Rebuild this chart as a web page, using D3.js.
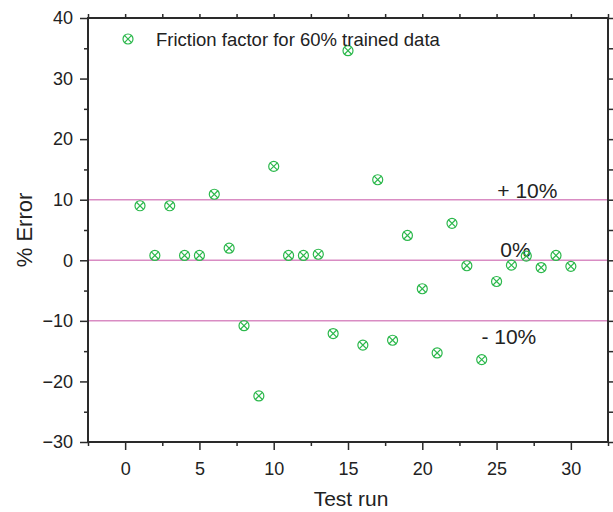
<!DOCTYPE html>
<html>
<head>
<meta charset="utf-8">
<script src="https://cdn.jsdelivr.net/npm/d3@7"></script>
<style>
  html, body { margin: 0; padding: 0; background: #fff; }
  svg { display: block; font-family: "Liberation Sans", Arial, sans-serif; }
</style>
</head>
<body>
<svg id="chart" width="613" height="512"></svg>
<script>
// Test run numbers and their percentage error
const runs = [1, 2, 3, 4, 5, 6, 7, 8, 9, 10, 11, 12, 13, 14, 15,
              16, 17, 18, 19, 20, 21, 22, 23, 24, 25, 26, 27, 28, 29, 30];
const errors = [9.0, 0.8, 9.0, 0.8, 0.8, 10.9, 2.0, -10.8, -22.4, 15.5,
                0.8, 0.8, 1.0, -12.1, 34.6, -14.0, 13.3, -13.2, 4.1, -4.7,
                -15.3, 6.1, -0.9, -16.4, -3.5, -0.8, 0.7, -1.2, 0.8, -1.0];

// Reference bands and their labels
const refValues = [10, 0, -10];
const refLabels = ["+ 10%", "0%", "- 10%"];

const xTicks = [0, 5, 10, 15, 20, 25, 30];
const yTicks = [-30, -20, -10, 0, 10, 20, 30, 40];
const legendLabel = "Friction factor for 60% trained data";

const margin = { left: 88, right: 5, top: 18, bottom: 70 };
const W = 613, H = 512;
const svg = d3.select("#chart");

const x = d3.scaleLinear().domain([-2.5, 32.5]).range([margin.left, W - margin.right]);
const y = d3.scaleLinear().domain([-30, 40]).range([H - margin.bottom, margin.top]);

const axisColor = "#2a2a2a";
const green = "#2cb84c";
const pink = "#d98cc3";

// Reference lines
svg.append("g").selectAll("line").data(refValues).join("line")
  .attr("x1", x(-2.5)).attr("x2", x(32.5))
  .attr("y1", d => y(d)).attr("y2", d => y(d))
  .attr("stroke", pink).attr("stroke-width", 1.5);

// Reference line labels
const refPos = [[25.05, 198], [25.25, 257], [23.98, 344]];
svg.append("g").selectAll("text").data(refLabels).join("text")
  .attr("x", (d, i) => x(refPos[i][0]))
  .attr("y", (d, i) => refPos[i][1])
  .attr("font-size", 21).attr("fill", "#222")
  .text(d => d);

// Axes: major ticks with labels, minor ticks in between
function styleAxis(g) {
  g.selectAll(".domain").remove();
  g.selectAll("line").attr("stroke", axisColor).attr("stroke-width", 1.5);
  g.selectAll("text").attr("fill", "#222").attr("font-size", 18);
}
const xMinor = d3.range(-2.5, 33, 2.5).filter(v => !xTicks.includes(v));
const yMinor = d3.range(-25, 40, 10);

svg.append("g").attr("transform", `translate(0,${y(-30)})`)
  .call(d3.axisBottom(x).tickValues(xTicks).tickSize(8).tickPadding(12).tickFormat(d3.format("d")))
  .call(styleAxis);
svg.append("g").attr("transform", `translate(0,${y(-30)})`)
  .call(d3.axisBottom(x).tickValues(xMinor).tickSize(4).tickFormat(""))
  .call(styleAxis);
svg.append("g").attr("transform", `translate(${x(-2.5)},0)`)
  .call(d3.axisLeft(y).tickValues(yTicks).tickSize(8).tickPadding(7).tickFormat(d3.format("d")))
  .call(styleAxis);
svg.append("g").attr("transform", `translate(${x(-2.5)},0)`)
  .call(d3.axisLeft(y).tickValues(yMinor).tickSize(4).tickFormat(""))
  .call(styleAxis);
// Mirrored ticks on top and right
svg.append("g").attr("transform", `translate(0,${y(40)})`)
  .call(d3.axisTop(x).tickValues(xTicks.concat(xMinor)).tickSize(4).tickFormat(""))
  .call(styleAxis);
svg.append("g").attr("transform", `translate(${x(32.5)},0)`)
  .call(d3.axisRight(y).tickValues(yTicks.concat(yMinor)).tickSize(5).tickFormat(""))
  .call(styleAxis);

// Frame
svg.append("rect")
  .attr("x", x(-2.5)).attr("y", y(40))
  .attr("width", x(32.5) - x(-2.5)).attr("height", y(-30) - y(40))
  .attr("fill", "none").attr("stroke", axisColor).attr("stroke-width", 2);

// Marker: circle with a cross
function marker(g) {
  g.append("circle").attr("r", 5).attr("fill", "none").attr("stroke", green).attr("stroke-width", 1.2);
  g.append("path").attr("d", "M-3.8,-3.8L3.8,3.8M-3.8,3.8L3.8,-3.8")
    .attr("stroke", green).attr("stroke-width", 1.2).attr("fill", "none");
}
svg.append("g").selectAll("g").data(runs.map((r, i) => [r, errors[i]])).join("g")
  .attr("transform", d => `translate(${x(d[0])},${y(d[1])})`)
  .each(function () { marker(d3.select(this)); });

// Legend
const lg = svg.append("g").attr("transform", "translate(128,39)");
marker(lg);
lg.append("text").attr("x", 28).attr("y", 6.5).attr("font-size", 18.5).attr("fill", "#222").text(legendLabel);

// Axis titles
svg.append("text").attr("x", (x(-2.5) + x(32.5)) / 2 + 3).attr("y", 506)
  .attr("text-anchor", "middle").attr("font-size", 21).attr("fill", "#222").text("Test run");
svg.append("text").attr("transform", `translate(32,${(y(40) + y(-30)) / 2}) rotate(-90)`)
  .attr("text-anchor", "middle").attr("font-size", 22).attr("fill", "#222").text("% Error");
</script>
</body>
</html>
